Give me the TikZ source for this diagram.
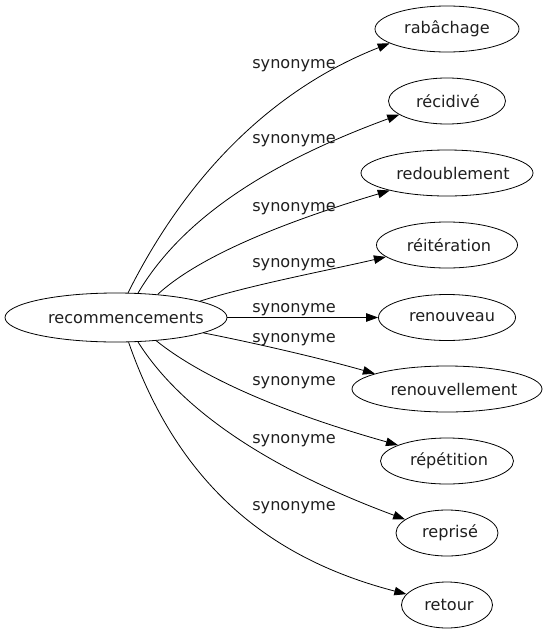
\documentclass[tikz,border=0pt]{standalone}
\usepackage{fontspec}
\setmainfont{DejaVu Sans}
\usetikzlibrary{shapes.geometric,arrows.meta}
\tikzset{
  term/.style={ellipse,draw,line width=0.8pt,inner sep=0pt,minimum height=46pt},
  word/.style={inner sep=0pt,font=\fontsize{16.1}{19}\selectfont,text=black!88},
  rel/.style={anchor=base,inner sep=0pt,font=\fontsize{16.1}{19}\selectfont,text=black!88},
  arr/.style={line width=0.8pt,-{Triangle[length=12pt,width=8.5pt]}},
}
\begin{document}
\begin{tikzpicture}[x=1pt,y=-1pt]
\useasboundingbox[fill=white] (0,0) rectangle (547,635);
\node[term,minimum width=222pt,minimum height=49pt,label={[word,xshift=10pt]center:recommencements}] (src) at (116,317.5) {};
\node[term,minimum width=144pt,label={[word,xshift=0pt]center:rabâchage}] (n1) at (447,29) {};
\node[term,minimum width=117pt,label={[word,xshift=1pt]center:récidivé}] (n2) at (447,101) {};
\node[term,minimum width=172pt,label={[word,xshift=6pt]center:redoublement}] (n3) at (447,173) {};
\node[term,minimum width=141pt,label={[word,xshift=2pt]center:réitération}] (n4) at (447,245) {};
\node[term,minimum width=137pt,label={[word,xshift=5pt]center:renouveau}] (n5) at (447,317.5) {};
\node[term,minimum width=190pt,label={[word,xshift=7pt]center:renouvellement}] (n6) at (447,389) {};
\node[term,minimum width=133pt,label={[word,xshift=2pt]center:répétition}] (n7) at (447,461) {};
\node[term,minimum width=102pt,label={[word,xshift=3pt]center:reprisé}] (n8) at (447,533) {};
\node[term,minimum width=91pt,label={[word,xshift=2pt]center:retour}] (n9) at (447,605) {};

\draw[arr] (src.64) .. controls (189,171) and (276,88) .. (n1.194);
\draw[arr] (src.48) .. controls (180,222) and (262,165) .. (n2.196);
\draw[arr] (src.29) .. controls (196,259) and (274,225) .. (n3.197);
\draw[arr] (src.11.7) .. controls (250,285) and (330,270) .. (n4.191);
\draw[arr] (src.east) -- (n5.west);
\draw[arr] (src.-10.8) .. controls (250,342) and (320,358) .. (n6.168.5);
\draw[arr] (src.-30) .. controls (202,377.6) and (282.6,412.6) .. (n7.162.6);
\draw[arr] (src.-48.9) .. controls (181.6,411.3) and (271,469.7) .. (n8.162);
\draw[arr] (src.-63.7) .. controls (180,490) and (275,560) .. (n9.165);

\node[rel] (l1) at (294,68.3) {synonyme};
\node[rel] (l2) at (294,143) {synonyme};
\node[rel] (l3) at (294,211) {synonyme};
\node[rel] (l4) at (294,267.7) {synonyme};
\node[rel] (l5) at (294,312.7) {synonyme};
\node[rel] (l6) at (294,342.7) {synonyme};
\node[rel] (l7) at (294,385) {synonyme};
\node[rel] (l8) at (294,443) {synonyme};
\node[rel] (l9) at (294,510.7) {synonyme};
\end{tikzpicture}
\end{document}
